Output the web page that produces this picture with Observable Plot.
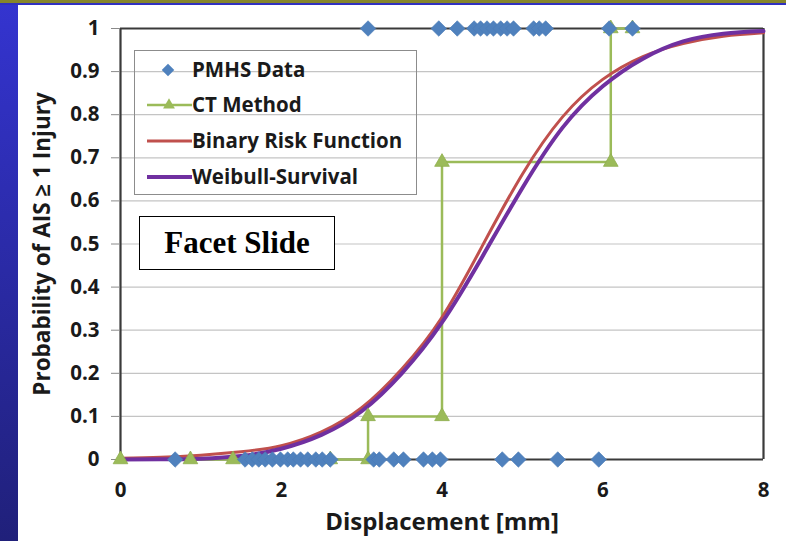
<!DOCTYPE html>
<html>
<head>
<meta charset="utf-8">
<script src="https://cdn.jsdelivr.net/npm/d3@7"></script>
<script src="https://cdn.jsdelivr.net/npm/@observablehq/plot@0.6"></script>
<style>
  html, body { margin: 0; padding: 0; background: #ffffff; }
  #wrap { position: relative; width: 786px; height: 541px; overflow: hidden; background: #fff; }
  #leftbar { position: absolute; left: 0; top: 0; width: 18px; height: 541px;
    background: linear-gradient(#3434d0, #20207a); }
  #topbar1 { position: absolute; left: 0; top: 0; width: 786px; height: 3px; background: #86862a; }
  #topbar2 { position: absolute; left: 0; top: 3px; width: 786px; height: 2px; background: #3030c0; }
  #legend { position: absolute; left: 134px; top: 50px; width: 283px; height: 145px;
    border: 1.5px solid #8c8c8c; box-sizing: border-box; }
  #facet { position: absolute; left: 139px; top: 216px; width: 196px; height: 54px;
    border: 1.5px solid #000; background: #fff; box-sizing: border-box;
    font-family: "Liberation Serif", serif; font-weight: bold; font-size: 31px; color: #000;
    display: flex; align-items: center; justify-content: center; }
  #plot { position: absolute; left: 0; top: 0; }
</style>
</head>
<body>
<div id="wrap">
  <div id="plot"></div>
  <div id="leftbar"></div>
  <div id="topbar1"></div>
  <div id="topbar2"></div>
  <div id="legend"></div>
  <div id="facet">Facet Slide</div>
</div>
<script>
// ---- data ----
const pmhsZeroX = [0.68, 1.55, 1.64, 1.72, 1.80, 1.89, 1.99, 2.08, 2.15, 2.24, 2.33, 2.43, 2.51, 2.61,
                   3.15, 3.22, 3.40, 3.52, 3.77, 3.88, 3.98, 4.75, 4.95, 5.44, 5.95];
const pmhsOneX  = [3.08, 3.96, 4.19, 4.40, 4.48, 4.56, 4.64, 4.73, 4.81, 4.89, 5.14, 5.21, 5.29, 6.08, 6.37];

const ctX = [0, 0.87, 1.40, 2.61, 3.08, 3.08, 4.00, 4.00, 6.10, 6.10, 6.37];
const ctY = [0, 0,    0,    0,    0,    0.10, 0.10, 0.69, 0.69, 1.00, 1.00];

const curveX   = [0, 0.5, 1, 1.5, 2, 2.5, 3, 3.5, 4, 4.5, 5, 5.5, 6, 6.5, 7, 7.5, 8];
const binaryY  = [0.003, 0.005, 0.010, 0.018, 0.032, 0.064, 0.120, 0.210, 0.330, 0.495, 0.662, 0.795, 0.882, 0.935, 0.965, 0.982, 0.990];
const weibullY = [0.000, 0.0005, 0.002, 0.008, 0.025, 0.057, 0.112, 0.200, 0.318, 0.470, 0.630, 0.770, 0.866, 0.930, 0.970, 0.988, 0.994];

const xTicks = [0, 2, 4, 6, 8];
const yTicks = [0, 0.1, 0.2, 0.3, 0.4, 0.5, 0.6, 0.7, 0.8, 0.9, 1];

const xTitle = "Displacement [mm]";
const yTitle = "Probability of AIS \u2265 1 Injury";

const legendItems = ["PMHS Data", "CT Method", "Binary Risk Function", "Weibull-Survival"];

// ---- build tables ----
const pmhs = [
  ...pmhsZeroX.map(x => ({x, y: 0})),
  ...pmhsOneX.map(x => ({x, y: 1}))
];
const ct = ctX.map((x, i) => ({x, y: ctY[i]}));
const binary = curveX.map((x, i) => ({x, y: binaryY[i]}));
const weibull = curveX.map((x, i) => ({x, y: weibullY[i]}));

const BLUE = "#4f81bd", GREEN = "#9bbb59", RED = "#c0504d", PURPLE = "#7030a0";

const chart = Plot.plot({
  width: 786,
  height: 541,
  marginLeft: 120,
  marginRight: 23,
  marginTop: 28,
  marginBottom: 82,
  style: {fontFamily: "'Open Sans', sans-serif", fontSize: "20px", fontWeight: "bold", color: "#1a1a1a", background: "transparent", overflow: "visible"},
  x: {domain: [0, 8]},
  y: {domain: [0, 1]},
  marks: [
    Plot.ruleY(yTicks.slice(1, -1), {stroke: "#c4c4c4", strokeWidth: 1.2}),
    Plot.ruleY([0, 1], {stroke: "#3a3a3a", strokeWidth: 2.2}),
    Plot.ruleX([0, 8], {stroke: "#3a3a3a", strokeWidth: 2.2}),
    Plot.axisY(yTicks, {tickSize: 9, tickPadding: 12, stroke: "#8a8a8a", tickFormat: d => String(+d.toFixed(1)), fontSize: 20.5, fontWeight: "bold", label: null}),
    Plot.axisX(xTicks, {tickSize: 0, tickPadding: 23, fontSize: 20.5, fontWeight: "bold", label: null}),
    Plot.text([xTitle], {frameAnchor: "bottom", dy: 63, textAnchor: "middle", lineAnchor: "middle", fontSize: 24, fontWeight: "bold", fill: "#1a1a1a"}),
    Plot.text([yTitle], {frameAnchor: "left", dx: -78, rotate: -90, textAnchor: "middle", lineAnchor: "middle", fontSize: 22.5, fontWeight: "bold", fill: "#1a1a1a"}),
    Plot.line(ct, {x: "x", y: "y", stroke: GREEN, strokeWidth: 2.5}),
    Plot.line(binary, {x: "x", y: "y", stroke: RED, strokeWidth: 3, curve: "natural"}),
    Plot.line(weibull, {x: "x", y: "y", stroke: PURPLE, strokeWidth: 4, curve: "natural"}),
    Plot.dot(ct, {x: "x", y: "y", symbol: "triangle2", r: 7, fill: GREEN, stroke: "#8fae4e", strokeWidth: 0.8}),
    Plot.dot(pmhs, {x: "x", y: "y", symbol: "diamond2", r: 7, fill: BLUE, stroke: "#4a7ab5", strokeWidth: 0.6})
  ]
});
document.getElementById("plot").appendChild(chart);

// ---- legend (drawn with d3) ----
const lg = d3.select("#legend").append("svg").attr("width", 283).attr("height", 145)
  .style("position", "absolute").style("left", "-1.5px").style("top", "-1.5px").style("overflow", "visible");
const rowY = [20, 55, 91, 127];
const colors = [BLUE, GREEN, RED, PURPLE];
legendItems.forEach((name, i) => {
  const y = rowY[i];
  if (i === 0) {
    lg.append("path").attr("d", d3.symbol(d3.symbolDiamond2, 100)()).attr("transform", `translate(34,${y})`).attr("fill", BLUE);
  } else {
    lg.append("line").attr("x1", 13).attr("x2", 58).attr("y1", y).attr("y2", y)
      .attr("stroke", colors[i]).attr("stroke-width", i === 3 ? 4 : (i === 2 ? 3 : 2.5));
    if (i === 1) lg.append("path").attr("d", d3.symbol(d3.symbolTriangle2, 100)()).attr("transform", `translate(35,${y})`).attr("fill", GREEN);
  }
  lg.append("text").attr("x", 58).attr("y", y).attr("dy", "0.35em")
    .attr("font-family", "'Open Sans', sans-serif").attr("font-weight", "bold").attr("font-size", 20.5)
    .attr("fill", "#1a1a1a").text(name);
});
</script>
</body>
</html>
